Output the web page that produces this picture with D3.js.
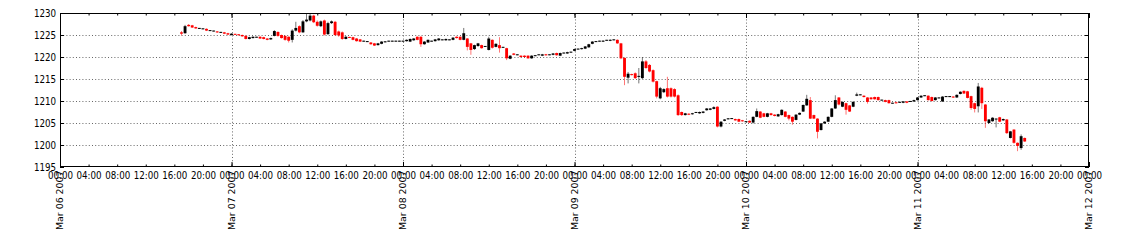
<!DOCTYPE html>
<html><head><meta charset="utf-8">
<script src="https://cdn.jsdelivr.net/npm/d3@7"></script>
<style>body{margin:0;background:#fff}svg{display:block}text{font-family:"DejaVu Sans",sans-serif;fill:#000}</style>
</head><body><svg id="c" width="1121" height="245"></svg>
<script>
// half-hourly candles starting Mar 06 2007 17:00
const startTime = "2007-03-06T17:00:00Z";
const stepMinutes = 30;
const opens = [
 1225.6,1225.4,1227.3,1227.2,1226.8,1226.5,1226.4,1226.4,1226.0,1225.9,1225.8,1225.6,1225.6,1225.4,
 1225.0,1225.2,1225.1,1225.0,1224.8,1224.1,1224.3,1224.5,1224.6,1224.5,1224.2,1224.0,
 1224.8,1225.7,1225.0,1224.8,1224.6,1223.9,1226.0,1227.0,1225.6,1228.1,1228.3,1229.4,
 1228.0,1227.0,1228.3,1225.2,1227.7,1228.0,1225.8,1225.6,1224.1,1224.5,1224.5,1224.2,
 1224.0,1223.6,1223.5,1223.3,1223.1,1222.7,1223.0,1223.4,1223.6,1223.6,1223.6,1223.6,
 1223.6,1223.6,1223.5,1223.8,1224.6,1224.6,1222.9,1223.3,1223.6,1223.6,1223.8,1223.9,
 1223.8,1223.9,1223.9,1224.6,1224.6,1223.9,1224.2,1223.1,1221.8,1222.5,1222.7,1222.4,
 1221.6,1223.9,1222.3,1222.7,1222.2,1222.0,1219.6,1220.8,1220.5,1220.3,1220.3,1220.3,
 1219.7,1220.3,1220.5,1220.3,1220.6,1220.5,1220.5,1220.9,1220.3,1220.9,1220.8,1221.1,
 1221.4,1221.8,1221.8,1221.9,1222.2,1223.0,1223.5,1223.6,1223.5,1223.8,1223.7,1223.9,
 1223.9,1223.1,1219.8,1215.3,1216.1,1216.3,1215.5,1215.2,1219.0,1218.2,1217.0,1214.5,
 1210.6,1212.0,1212.9,1212.9,1212.7,1211.3,1207.5,1206.8,1207.1,1207.0,1207.4,1207.2,
 1207.3,1207.9,1208.0,1208.2,1208.7,1204.2,1205.5,1205.9,1206.0,1205.9,1205.9,1205.6,
 1205.3,1205.5,1205.1,1206.4,1207.6,1207.2,1206.4,1207.2,1206.9,1206.5,1206.8,1207.6,
 1206.8,1206.4,1205.7,1206.9,1207.6,1209.0,1210.2,1206.8,1206.0,1203.4,1204.9,1205.3,
 1206.4,1208.3,1210.8,1208.7,1209.5,1209.0,1208.7,1211.2,1211.4,1211.2,1210.8,1210.8,
 1210.9,1210.9,1210.2,1210.2,1210.2,1209.5,1209.7,1209.7,1209.6,1209.9,1209.9,1209.9,
 1210.2,1210.8,1211.2,1211.2,1210.9,1210.2,1210.7,1209.9,1211.0,1211.0,1211.0,1210.8,
 1211.6,1212.3,1212.2,1211.1,1209.5,1208.8,1213.0,1209.2,1205.0,1205.4,1205.9,1206.3,
 1205.6,1205.8,1201.6,1203.5,1200.5,1199.3,1201.6
];
const highs = [
 1225.9,1227.3,1227.5,1227.3,1226.9,1226.6,1226.5,1226.5,1226.1,1226.0,1225.9,1225.7,1225.7,1225.5,
 1225.4,1225.3,1225.2,1225.1,1224.9,1224.6,1224.7,1224.6,1224.7,1224.6,1224.3,1224.4,
 1226.1,1225.8,1225.1,1224.9,1224.7,1226.3,1228.0,1227.2,1228.4,1230.5,1230.4,1229.6,
 1228.3,1228.3,1228.5,1228.0,1228.3,1228.2,1226.0,1225.8,1224.8,1224.6,1224.6,1224.3,
 1224.1,1223.7,1223.6,1223.4,1223.2,1223.2,1223.6,1223.6,1223.7,1223.7,1223.7,1223.7,
 1223.7,1224.0,1224.2,1224.3,1224.7,1224.7,1223.6,1224.0,1223.7,1224.1,1224.3,1224.0,
 1224.2,1224.0,1224.5,1224.7,1224.7,1226.6,1224.3,1223.2,1222.8,1223.2,1222.8,1222.5,
 1224.6,1224.0,1223.1,1224.5,1222.3,1222.1,1220.4,1220.9,1220.6,1220.4,1220.4,1220.4,
 1220.4,1220.4,1220.6,1220.7,1220.7,1220.6,1220.9,1221.0,1221.0,1221.0,1221.2,1221.2,
 1221.9,1221.9,1222.1,1222.5,1223.0,1223.6,1223.6,1223.7,1223.8,1223.9,1224.0,1224.0,
 1224.0,1223.2,1219.9,1216.6,1216.2,1216.5,1217.5,1220.0,1219.3,1218.4,1217.2,1214.6,
 1213.2,1212.9,1215.5,1213.1,1212.9,1211.5,1207.6,1207.3,1207.2,1207.3,1207.5,1207.6,
 1207.7,1208.4,1208.4,1208.8,1208.8,1205.4,1205.9,1206.1,1206.1,1206.0,1206.0,1205.7,
 1205.4,1205.6,1206.5,1208.3,1207.7,1207.3,1207.3,1207.3,1207.0,1207.1,1208.1,1207.7,
 1206.9,1206.5,1207.0,1207.4,1209.2,1211.4,1210.9,1206.9,1206.1,1205.0,1205.4,1206.5,
 1208.4,1211.3,1210.9,1209.9,1209.6,1209.1,1209.9,1211.9,1211.5,1211.3,1210.9,1210.9,
 1211.0,1211.0,1210.3,1210.3,1210.3,1209.6,1209.8,1209.8,1210.0,1210.0,1210.0,1210.3,
 1210.9,1211.3,1211.3,1211.3,1211.0,1210.9,1210.8,1211.1,1211.1,1211.1,1211.1,1211.5,
 1212.2,1212.4,1212.3,1211.2,1209.6,1214.1,1213.2,1209.3,1205.9,1206.3,1206.0,1206.4,
 1206.0,1205.9,1203.2,1203.6,1200.6,1202.4,1201.7
];
const lows = [
 1224.9,1225.3,1226.9,1226.6,1226.4,1226.4,1226.3,1225.9,1225.9,1225.8,1225.5,1225.5,1225.2,1225.0,
 1224.9,1225.0,1224.9,1224.6,1224.0,1224.0,1224.2,1224.4,1224.1,1224.0,1223.8,1223.9,
 1224.7,1224.6,1224.2,1223.7,1223.3,1223.3,1225.8,1225.4,1225.5,1227.9,1228.1,1227.7,
 1226.9,1226.8,1224.9,1225.0,1227.5,1224.8,1224.6,1223.9,1224.0,1224.3,1223.8,1223.5,
 1223.4,1223.5,1223.4,1222.8,1222.5,1222.6,1222.9,1223.3,1223.5,1223.5,1223.5,1223.5,
 1223.5,1223.5,1223.4,1223.7,1223.8,1222.3,1222.8,1223.2,1223.5,1223.5,1223.7,1223.8,
 1223.7,1223.8,1223.8,1224.2,1223.8,1223.8,1221.5,1220.5,1221.6,1222.3,1221.9,1222.3,
 1221.5,1221.9,1222.2,1221.0,1222.1,1219.3,1219.5,1220.4,1220.4,1219.9,1219.9,1219.6,
 1219.6,1220.2,1220.4,1220.2,1220.3,1220.4,1220.4,1220.3,1220.2,1220.8,1220.7,1221.0,
 1221.3,1221.7,1221.7,1221.8,1222.1,1222.9,1223.4,1223.5,1223.4,1223.7,1223.6,1223.8,
 1223.0,1219.5,1213.6,1214.0,1215.8,1215.0,1214.0,1215.0,1217.3,1216.5,1214.2,1210.6,
 1210.4,1211.8,1210.8,1210.8,1210.8,1206.6,1206.6,1206.7,1206.8,1206.9,1207.3,1207.1,
 1207.2,1207.8,1207.9,1208.1,1204.0,1204.0,1205.4,1205.8,1205.9,1205.5,1205.2,1205.3,
 1205.2,1205.0,1204.9,1206.3,1206.1,1206.3,1206.3,1206.7,1206.5,1206.4,1206.7,1206.3,
 1205.6,1204.6,1205.6,1206.8,1207.5,1208.9,1205.9,1205.9,1201.5,1203.3,1204.8,1205.2,
 1206.3,1208.2,1209.0,1208.6,1206.9,1207.5,1208.6,1211.1,1211.3,1210.8,1209.4,1210.3,
 1210.3,1210.1,1210.1,1209.7,1209.4,1209.4,1209.4,1209.6,1209.5,1209.5,1209.8,1209.8,
 1210.1,1210.7,1211.1,1210.1,1209.9,1210.1,1210.6,1209.8,1210.9,1210.9,1210.7,1210.7,
 1211.5,1211.6,1210.6,1208.0,1207.4,1207.4,1208.2,1203.9,1204.9,1205.3,1204.0,1205.2,
 1205.5,1202.5,1201.5,1200.3,1198.6,1198.9,1200.7
];
const closes = [
 1225.3,1227.0,1227.0,1226.7,1226.5,1226.5,1226.4,1226.0,1226.0,1225.9,1225.6,1225.6,1225.3,1225.1,
 1225.3,1225.1,1225.0,1224.7,1224.1,1224.5,1224.6,1224.5,1224.2,1224.1,1223.9,1224.3,
 1225.9,1224.8,1224.3,1223.9,1223.7,1226.0,1226.6,1225.6,1228.1,1228.5,1229.4,1227.9,
 1227.1,1228.1,1225.1,1227.7,1228.1,1225.0,1224.9,1224.1,1224.6,1224.4,1223.9,1223.6,
 1223.5,1223.6,1223.5,1222.9,1222.6,1223.1,1223.5,1223.5,1223.6,1223.6,1223.6,1223.6,
 1223.6,1223.9,1224.1,1224.2,1223.9,1222.9,1223.5,1223.9,1223.6,1224.0,1224.2,1223.9,
 1224.1,1223.9,1224.4,1224.3,1223.9,1225.4,1222.3,1221.6,1222.7,1223.1,1222.0,1222.4,
 1224.2,1222.1,1223.0,1222.0,1222.2,1219.7,1220.3,1220.5,1220.5,1220.0,1220.0,1219.7,
 1220.3,1220.3,1220.5,1220.6,1220.4,1220.5,1220.8,1220.4,1220.9,1220.9,1221.1,1221.1,
 1221.8,1221.8,1222.0,1222.4,1222.9,1223.5,1223.5,1223.6,1223.7,1223.8,1223.9,1223.9,
 1223.1,1219.7,1215.5,1216.2,1215.9,1215.2,1215.7,1219.0,1217.5,1216.7,1214.4,1211.0,
 1212.9,1212.7,1211.0,1211.0,1211.0,1206.8,1206.8,1207.2,1206.9,1207.2,1207.4,1207.5,
 1207.6,1208.3,1208.3,1208.6,1204.2,1205.3,1205.8,1206.0,1206.0,1205.6,1205.3,1205.4,
 1205.3,1205.1,1206.4,1207.7,1206.2,1206.4,1207.2,1206.8,1206.6,1207.0,1208.0,1206.4,
 1206.0,1205.3,1206.9,1207.3,1209.1,1210.5,1206.0,1206.0,1203.0,1204.9,1205.3,1206.4,
 1208.3,1210.2,1209.2,1209.8,1208.0,1207.6,1209.8,1211.5,1211.4,1210.9,1209.8,1210.4,
 1210.4,1210.2,1210.2,1209.8,1209.5,1209.5,1209.5,1209.7,1209.9,1209.6,1209.9,1210.2,
 1210.8,1211.2,1211.2,1210.2,1210.0,1210.8,1210.7,1211.0,1211.0,1211.0,1210.8,1211.4,
 1212.1,1211.7,1210.7,1208.4,1208.2,1213.3,1209.5,1205.4,1205.8,1206.2,1205.9,1205.3,
 1205.9,1202.7,1203.1,1200.5,1199.8,1202.0,1200.8
];
const yTicks = [1195,1200,1205,1210,1215,1220,1225,1230];
const xDomain = ["2007-03-06T00:00:00Z","2007-03-12T00:00:00Z"];
const dayTicks = ["2007-03-06","2007-03-07","2007-03-08","2007-03-09","2007-03-10","2007-03-11","2007-03-12"];
const colorUp = "#000000", colorDown = "#ff0000";

const L=60, R=1089, T=13, B=167, SX=0.87;
const svg = d3.select("#c");
const x = d3.scaleUtc().domain(xDomain.map(d=>new Date(d))).range([L,R]);
const y = d3.scaleLinear().domain([1195,1230]).range([B,T]);

const n = Math.min(opens.length, highs.length, lows.length, closes.length);
const t0 = new Date(startTime);
const candles = d3.range(n).map(i=>({t:d3.utcMinute.offset(t0, i*stepMinutes),o:opens[i],h:highs[i],l:lows[i],c:closes[i]}));
const days = dayTicks.map(d=>new Date(d+"T00:00:00Z"));

// grid
const grid = svg.append("g").attr("stroke","#000").attr("stroke-width",0.8).attr("stroke-dasharray","1,2.2").attr("opacity",0.75);
grid.selectAll("line.h").data(yTicks.slice(1,-1)).join("line")
  .attr("x1",L).attr("x2",R).attr("y1",d=>Math.round(y(d))+0.5).attr("y2",d=>Math.round(y(d))+0.5);
grid.selectAll("line.v").data(days.slice(1,-1)).join("line")
  .attr("y1",T).attr("y2",B).attr("x1",d=>Math.round(x(d))+0.5).attr("x2",d=>Math.round(x(d))+0.5);

// candles
svg.append("defs").append("clipPath").attr("id","clip").append("rect").attr("x",L).attr("y",T).attr("width",R-L).attr("height",B-T);
const cg = svg.append("g").attr("clip-path","url(#clip)");
const bw = (x(d3.utcMinute.offset(t0,stepMinutes))-x(t0))*0.8;
const col = d=> d.c>=d.o ? colorUp : colorDown;
cg.selectAll("line.w").data(candles).join("line")
  .attr("x1",d=>x(d.t)).attr("x2",d=>x(d.t)).attr("y1",d=>y(d.h)).attr("y2",d=>y(d.l))
  .attr("stroke",col).attr("stroke-width",0.9).attr("opacity",0.6);
cg.selectAll("rect.b").data(candles).join("rect")
  .attr("x",d=>x(d.t)-bw/2).attr("width",bw)
  .attr("y",d=>{const a=y(Math.max(d.o,d.c)), b=y(Math.min(d.o,d.c)); return b-a<1 ? (a+b)/2-0.5 : a;})
  .attr("height",d=>Math.max(1, y(Math.min(d.o,d.c))-y(Math.max(d.o,d.c))))
  .attr("fill",col);

// axes
function styleAxis(g){ g.select(".domain").remove(); g.selectAll("line").attr("stroke","#000"); g.selectAll("text").attr("font-size",10).attr("font-family","DejaVu Sans"); }
const ya = svg.append("g").attr("transform",`translate(${L},0)`)
  .call(d3.axisLeft(y).tickValues(yTicks).tickSizeInner(-4).tickSizeOuter(0).tickPadding(0).tickFormat(d3.format("d")));
styleAxis(ya);
ya.selectAll("text").attr("x",0).attr("transform",`translate(-4,0) scale(${SX},1)`);
svg.append("g").attr("transform",`translate(${R},0)`)
  .call(d3.axisRight(y).tickValues(yTicks).tickSizeInner(-4).tickSizeOuter(0).tickFormat("")).call(styleAxis);

const minor = d3.utcHour.every(4);
const xb = svg.append("g").attr("transform",`translate(0,${B})`)
  .call(d3.axisBottom(x).ticks(minor).tickSizeInner(-2.5).tickSizeOuter(0).tickPadding(0).tickFormat(d3.utcFormat("%H:%M")));
styleAxis(xb);
xb.selectAll("text").attr("y",0).attr("dy","0.71em").attr("transform",`translate(0,4.6) scale(${SX},1)`);
svg.append("g").attr("transform",`translate(0,${T})`)
  .call(d3.axisTop(x).ticks(minor).tickSizeInner(-2.5).tickSizeOuter(0).tickFormat("")).call(styleAxis);
svg.append("g").attr("transform",`translate(0,${T})`)
  .call(d3.axisTop(x).tickValues(days).tickSizeInner(-5).tickSizeOuter(0).tickFormat("")).call(styleAxis);
const xm = svg.append("g").attr("transform",`translate(0,${B})`)
  .call(d3.axisBottom(x).tickValues(days).tickSizeInner(-5).tickSizeOuter(0).tickPadding(0).tickFormat(d3.utcFormat("%b %d %Y")));
styleAxis(xm);
xm.selectAll("text").attr("font-size",9.4).attr("x",0).attr("y",0).attr("dy","0.36em")
  .attr("text-anchor","end").attr("transform",`translate(0,3.5) scale(${SX},1) rotate(-90)`);

// frame
svg.append("rect").attr("x",L+0.5).attr("y",T+0.5).attr("width",R-L-1).attr("height",B-T-1)
  .attr("fill","none").attr("stroke","#000").attr("stroke-width",1);
</script></body></html>
